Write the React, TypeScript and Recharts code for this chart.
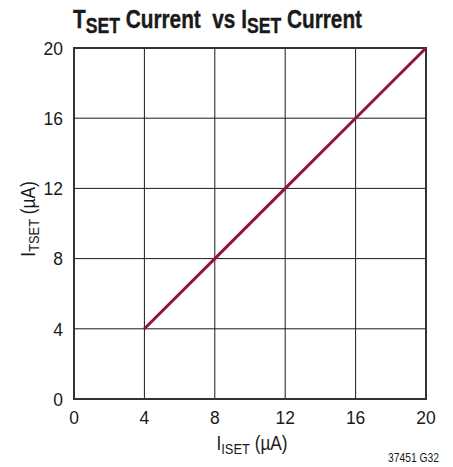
import React from 'react';
import {
  LineChart,
  Line,
  XAxis,
  YAxis,
  CartesianGrid,
  ReferenceArea,
} from 'recharts';

// I_ISET (µA) vs I_TSET (µA)
const isetCurrent = [4, 8, 12, 16, 20];
const tsetCurrent = [4, 8, 12, 16, 20];
const xTicks = [0, 4, 8, 12, 16, 20];
const yTicks = [0, 4, 8, 12, 16, 20];

const data = isetCurrent.map((x, i) => ({ iset: x, itset: tsetCurrent[i] }));

// Liberation Sans squeezed horizontally to look like Helvetica Condensed
const FONT = "'Liberation Sans', Arial, sans-serif";
const SQUEEZE = 0.86;
const TICK_SQUEEZE = 0.92;
const TEXT = '#1a1a1a';
const LINE_COLOR = '#93153e';

const XTick = ({ x, y, payload }: any) => (
  <text
    transform={`translate(${x},${y}) scale(${TICK_SQUEEZE},1)`}
    textAnchor="middle"
    dy="0.71em"
    fontFamily={FONT}
    fontSize={19}
    fill={TEXT}
  >
    {payload.value}
  </text>
);

const YTick = ({ x, y, payload }: any) => (
  <text
    transform={`translate(${x},${y}) scale(${TICK_SQUEEZE},1)`}
    textAnchor="end"
    dy="0.36em"
    fontFamily={FONT}
    fontSize={19}
    fill={TEXT}
  >
    {payload.value}
  </text>
);

export default function App() {
  return (
    <div style={{ position: 'absolute', left: 0, top: 0, width: 453, height: 467, background: '#fff' }}>
      <LineChart
        width={453}
        height={467}
        data={data}
        margin={{ top: 48, right: 27, bottom: 0, left: 0 }}
      >
        <CartesianGrid stroke={TEXT} strokeWidth={1} />
        <XAxis
          dataKey="iset"
          type="number"
          domain={[0, 20]}
          ticks={xTicks}
          height={68}
          axisLine={false}
          tickLine={false}
          tickSize={0}
          tickMargin={12}
          tick={<XTick />}
        />
        <YAxis
          dataKey="itset"
          type="number"
          domain={[0, 20]}
          ticks={yTicks}
          width={74}
          axisLine={false}
          tickLine={false}
          tickSize={0}
          tickMargin={11}
          tick={<YTick />}
        />
        <ReferenceArea x1={0} x2={20} y1={0} y2={20} fill="none" stroke="#333" strokeWidth={2} />
        <Line
          type="linear"
          dataKey="itset"
          stroke={LINE_COLOR}
          strokeWidth={3}
          dot={false}
          isAnimationActive={false}
        />
      </LineChart>
      <svg
        width={453}
        height={467}
        style={{ position: 'absolute', left: 0, top: 0, pointerEvents: 'none' }}
      >
        <text
          transform="translate(73,28) scale(0.8,1)"
          fontFamily={FONT}
          fontWeight="bold"
          fontSize={26}
          fill={TEXT}
          stroke={TEXT}
          strokeWidth={0.4}
          style={{ whiteSpace: 'pre' }}
        >
          <tspan>T</tspan>
          <tspan fontSize={22} dy={5}>SET</tspan>
          <tspan dy={-5}> Current  vs I</tspan>
          <tspan fontSize={22} dy={5}>SET</tspan>
          <tspan dy={-5}> Current</tspan>
        </text>
        <text
          transform={`translate(252,450) scale(${SQUEEZE},1)`}
          textAnchor="middle"
          fontFamily={FONT}
          fontSize={20}
          fill={TEXT}
          style={{ whiteSpace: 'pre' }}
        >
          <tspan>I</tspan>
          <tspan fontSize={15} dy={4}>ISET</tspan>
          <tspan dy={-4}> (µA)</tspan>
        </text>
        <text
          transform={`translate(35,219) rotate(-90) scale(${SQUEEZE},1)`}
          textAnchor="middle"
          fontFamily={FONT}
          fontSize={20}
          fill={TEXT}
          style={{ whiteSpace: 'pre' }}
        >
          <tspan>I</tspan>
          <tspan fontSize={15} dy={4}>TSET</tspan>
          <tspan dy={-4}> (µA)</tspan>
        </text>
        <text
          transform={`translate(439,462) scale(${SQUEEZE},1)`}
          textAnchor="end"
          fontFamily={FONT}
          fontSize={12}
          fill={TEXT}
        >
          37451 G32
        </text>
      </svg>
    </div>
  );
}
